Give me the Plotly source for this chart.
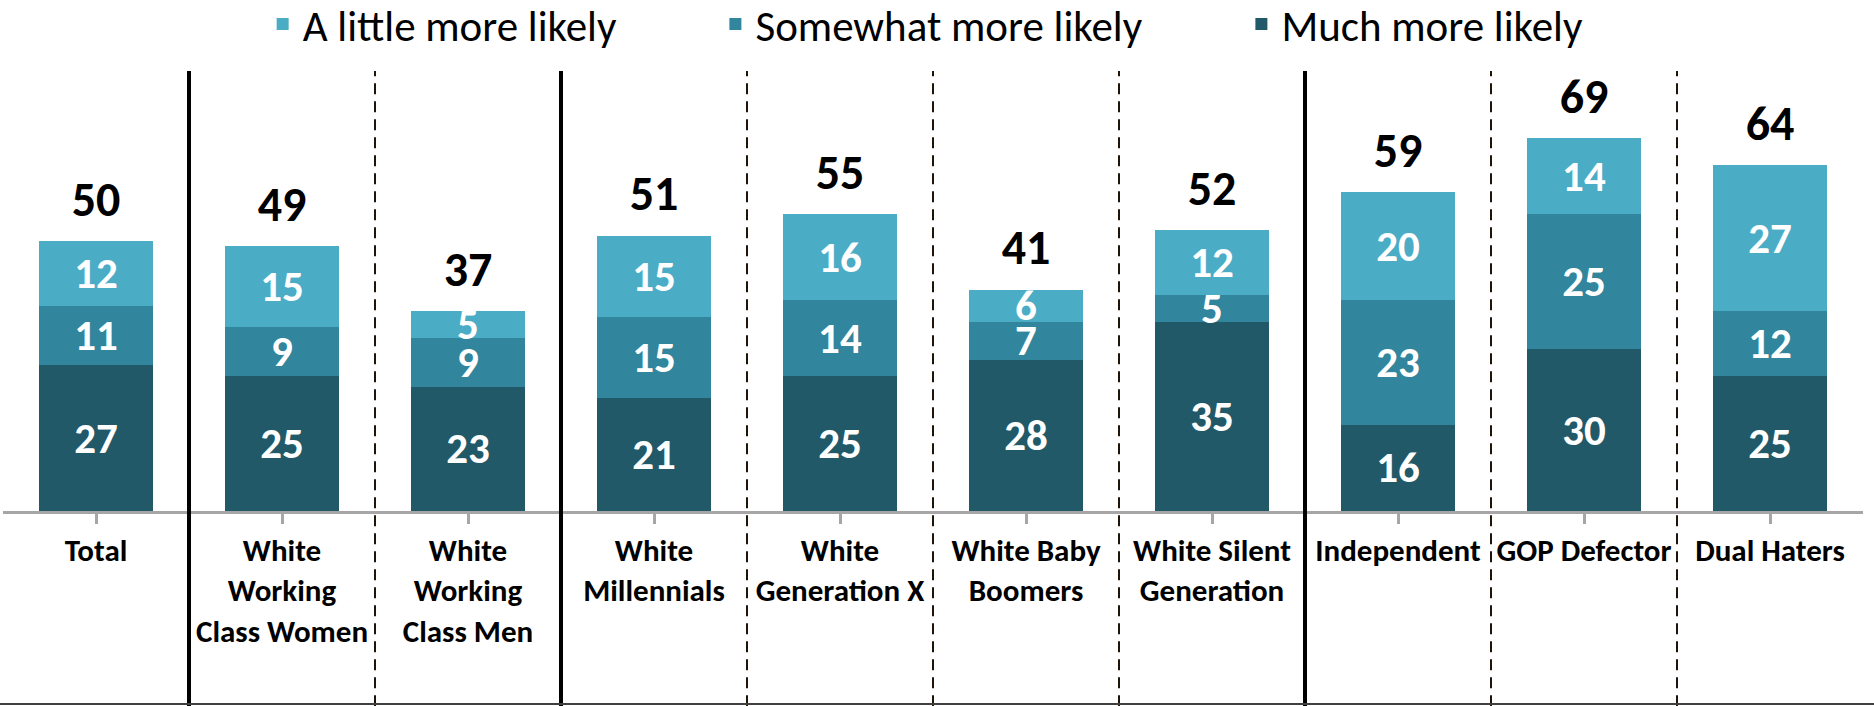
import plotly.graph_objects as go

categories = ["Total", "White<br>Working<br>Class Women", "White<br>Working<br>Class Men",
              "White<br>Millennials", "White<br>Generation X", "White Baby<br>Boomers",
              "White Silent<br>Generation", "Independent", "GOP Defector", "Dual Haters"]
much_more = [27, 25, 23, 21, 25, 28, 35, 16, 30, 25]
somewhat_more = [11, 9, 9, 15, 14, 7, 5, 23, 25, 12]
little_more = [12, 15, 5, 15, 16, 6, 12, 20, 14, 27]
totals = [50, 49, 37, 51, 55, 41, 52, 59, 69, 64]

solid_after = [0, 2, 6]          # separator after these category indexes
dashed_after = [1, 3, 4, 5, 7, 8]

C_LIGHT = "#4BACC6"
C_MID = "#31859C"
C_DARK = "#215968"
FONT = "Carlito, Lato, sans-serif"

fig = go.Figure()
x = list(range(len(categories)))

series = [
    ("Much more likely", much_more, C_DARK, "legend3"),
    ("Somewhat more likely", somewhat_more, C_MID, "legend2"),
    ("A little more likely", little_more, C_LIGHT, "legend"),
]
for name, vals, col, lg in series:
    fig.add_trace(go.Bar(
        x=x, y=vals, name=name, marker=dict(color=col, line=dict(width=0)),
        text=[str(v) for v in vals], textposition="inside", insidetextanchor="middle",
        textangle=0, constraintext="none",
        textfont=dict(family=FONT, size=43, color="white", weight="bold"),
        legend=lg,
    ))

fig.add_trace(go.Scatter(
    x=x, y=totals, mode="markers+text", text=[str(v) for v in totals],
    textposition="top center", showlegend=False, hoverinfo="skip",
    marker=dict(size=20, opacity=0),
    textfont=dict(family=FONT, size=48, color="black", weight="bold"),
    cliponaxis=False,
))

# plot area: 79 px top margin, 432 px tall, bottom at 511 px
shapes = []
for i in solid_after:
    shapes.append(dict(type="line", xref="x", yref="paper", x0=i + 0.5, x1=i + 0.5,
                       y0=-0.452, y1=1.0185, line=dict(color="black", width=4)))
for i in dashed_after:
    shapes.append(dict(type="line", xref="x", yref="paper", x0=i + 0.5, x1=i + 0.5,
                       y0=-0.452, y1=1.0185, line=dict(color="#1e140a", width=2, dash="11px,7px")))
shapes.append(dict(type="line", xref="paper", yref="paper", x0=-0.01, x1=1.01,
                   y0=-0.447, y1=-0.447, line=dict(color="#404040", width=2)))

leg_font = dict(family=FONT, size=43, color="black")
fig.update_layout(
    width=1874, height=706,
    margin=dict(l=3, r=11, t=79, b=195, autoexpand=False),
    paper_bgcolor="white", plot_bgcolor="white",
    barmode="stack", bargap=0.39,
    font=dict(family=FONT, color="black"),
    shapes=shapes,
    xaxis=dict(
        tickmode="array", tickvals=x, ticktext=[f"<b>{c}</b>" for c in categories],
        range=[-0.5, len(categories) - 0.5],
        showline=True, linecolor="#a6a6a6", linewidth=2.5,
        ticks="outside", tickson="boundaries", ticklen=10, tickcolor="#a6a6a6", tickwidth=2.5,
        tickfont=dict(family=FONT, size=31, color="black"),
        ticklabelstandoff=0, showgrid=False, zeroline=False, automargin=False,
    ),
    yaxis=dict(range=[0, 80], visible=False, showgrid=False, zeroline=False),
    legend=dict(orientation="h", x=0.1396, y=1.127, xanchor="left", yanchor="middle",
                font=leg_font, bgcolor="rgba(0,0,0,0)"),
    legend2=dict(orientation="h", x=0.3830, y=1.127, xanchor="left", yanchor="middle",
                 font=leg_font, bgcolor="rgba(0,0,0,0)"),
    legend3=dict(orientation="h", x=0.6658, y=1.127, xanchor="left", yanchor="middle",
                 font=leg_font, bgcolor="rgba(0,0,0,0)"),
)

fig.write_html("out.html", config={"displayModeBar": False},
               post_script="document.body.style.margin='0px';")
